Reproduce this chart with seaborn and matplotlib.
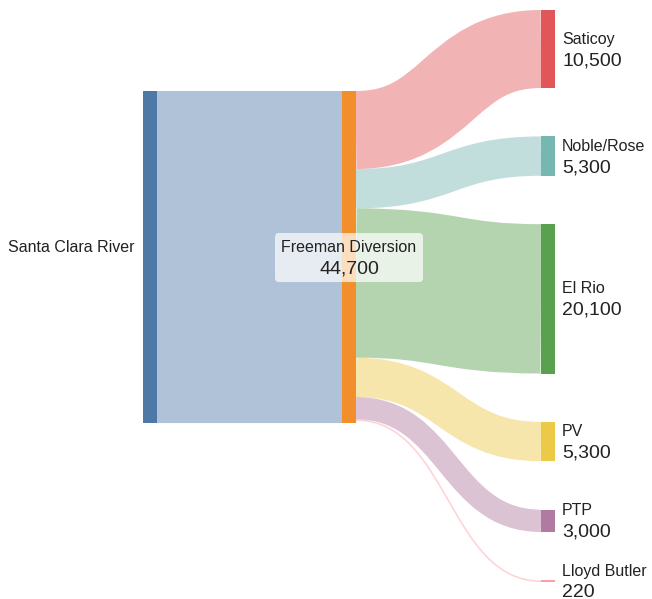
import matplotlib
matplotlib.use("Agg")
import matplotlib.pyplot as plt
import seaborn as sns
from matplotlib.path import Path
from matplotlib.patches import PathPatch, Rectangle, FancyBboxPatch

# ---------------- data ----------------
source_name = "Santa Clara River"
hub_name = "Freeman Diversion"
hub_value = 44700
hub_label = "44,700"
targets = ["Saticoy", "Noble/Rose", "El Rio", "PV", "PTP", "Lloyd Butler"]
target_values = [10500, 5300, 20100, 5300, 3000, 220]
target_labels = ["10,500", "5,300", "20,100", "5,300", "3,000", "220"]

# ---------------- style ----------------
sns.set_theme(style="white")
plt.rcParams["font.family"] = ["Liberation Sans", "DejaVu Sans"]
palette = sns.color_palette(["#4e79a7", "#f28e2b", "#e15759", "#76b7b2",
                             "#59a14f", "#edc948", "#b07aa1", "#ff9da7"])
src_color, hub_color = palette[0], palette[1]
tgt_colors = palette[2:2 + len(targets)]
link_alpha = 0.45
text_color = "#222222"

# ---------------- layout (pixels) ----------------
W, H = 652, 599
col_x = [143, 342, 541]
node_w = 14
top, bottom = 10, 582
pad = 48.4
k = (bottom - top - pad * (len(targets) - 1)) / sum(target_values)
hub_top = 91

fig = plt.figure(figsize=(W / 100, H / 100), dpi=100)
ax = fig.add_axes([0, 0, 1, 1])
ax.set_xlim(0, W)
ax.set_ylim(H, 0)
ax.axis("off")


def link(x0, y0, x1, y1, width, color):
    xm = (x0 + x1) / 2
    path = Path([(x0, y0), (xm, y0), (xm, y1), (x1, y1)],
                [Path.MOVETO, Path.CURVE4, Path.CURVE4, Path.CURVE4])
    ax.add_patch(PathPatch(path, fill=False, edgecolor=color, alpha=link_alpha,
                           linewidth=max(width, 1.0) * 72 / 100,
                           capstyle="butt", zorder=1))


def node(x, y0, h, color):
    ax.add_patch(Rectangle((x, y0), node_w, max(h, 1.2), facecolor=color,
                           edgecolor="none", zorder=2))


hub_h = hub_value * k
# source -> hub
link(col_x[0] + node_w, hub_top + hub_h / 2, col_x[1], hub_top + hub_h / 2,
     hub_h, src_color)
node(col_x[0], hub_top, hub_h, src_color)
node(col_x[1], hub_top, hub_h, hub_color)

# hub -> targets
sy = hub_top
ty = top
for name, val, lab, col in zip(targets, target_values, target_labels, tgt_colors):
    h = val * k
    link(col_x[1] + node_w, sy + h / 2, col_x[2], ty + h / 2, h, col)
    node(col_x[2], ty, h, col)
    c = ty + h / 2
    ax.text(col_x[2] + node_w + 7, c - 5.5, name, fontsize=11.5,
            color=text_color, ha="left", va="baseline", zorder=4)
    ax.text(col_x[2] + node_w + 7, c + 16.0, lab, fontsize=14,
            color=text_color, ha="left", va="baseline", zorder=4)
    sy += h
    ty += h + pad

# source label
hc = hub_top + hub_h / 2
ax.text(col_x[0] - 8, hc - 5.5, source_name, fontsize=11.5, color=text_color,
        ha="right", va="baseline", zorder=4)

# hub label with box
hx = col_x[1] + node_w / 2
ax.add_patch(FancyBboxPatch((hx - 74, hc - 24), 148, 49,
                            boxstyle="round,pad=0,rounding_size=4",
                            facecolor="white", edgecolor="none", alpha=0.7,
                            zorder=3))
ax.text(hx, hc - 5.5, hub_name, fontsize=11.5, color=text_color,
        ha="center", va="baseline", zorder=4)
ax.text(hx, hc + 16.0, hub_label, fontsize=14, color=text_color,
        ha="center", va="baseline", zorder=4)

fig.savefig("out.png", dpi=100, facecolor="white")
